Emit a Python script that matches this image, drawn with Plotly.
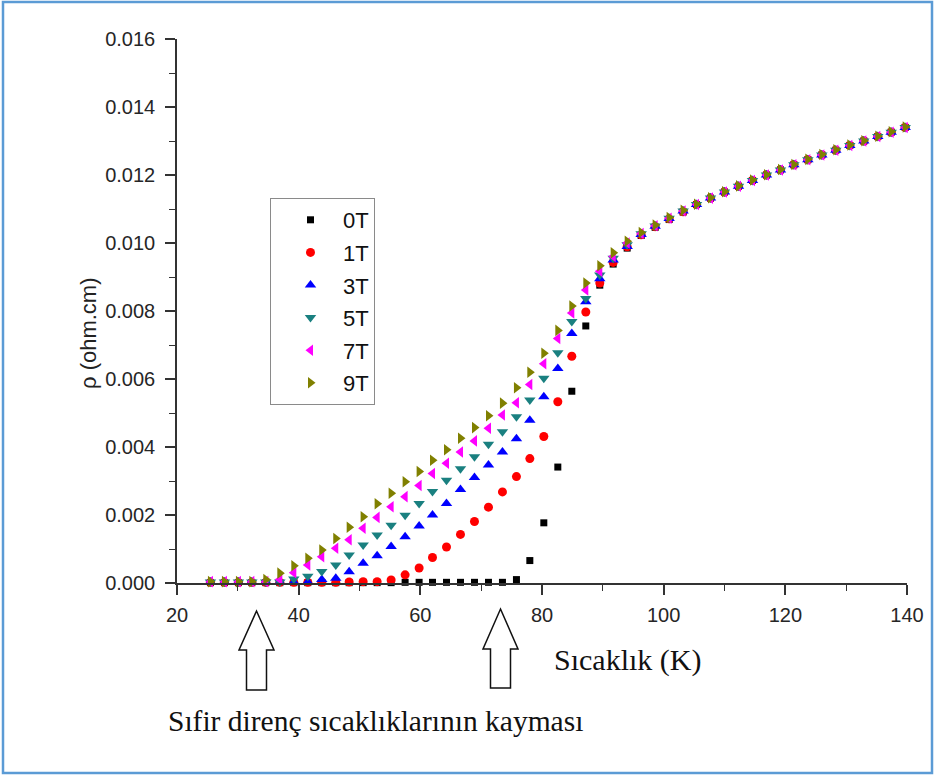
import plotly.graph_objects as go

# Temperature (K)
T = [25.5, 27.8, 30.1, 32.3, 34.6, 36.9, 39.2, 41.5, 43.8, 46.1, 48.3, 50.6, 52.9,
     55.2, 57.5, 59.8, 62.0, 64.3, 66.6, 68.9, 71.2, 73.5, 75.8, 78.0, 80.3, 82.6,
     84.9, 87.2, 89.5, 91.7, 94.0, 96.3, 98.6, 100.9, 103.2, 105.4, 107.7, 110.0,
     112.3, 114.6, 116.9, 119.2, 121.4, 123.7, 126.0, 128.3, 130.6, 132.9, 135.2,
     137.4, 139.7]

rho_0T = [0.00001, 0.00001, 0.00001, 0.00001, 0.00001, 0.00001, 0.00001, 0.00001,
          0.00001, 0.00001, 0.00001, 0.00001, 0.00001, 0.00001, 0.00002, 0.00002,
          0.00002, 0.00002, 0.00002, 0.00002, 0.00002, 0.00002, 0.00010, 0.00066,
          0.00177, 0.00341, 0.00564, 0.00756, 0.00876, 0.00938, 0.00985, 0.01022,
          0.01046, 0.01069, 0.01091, 0.01113, 0.01132, 0.01150, 0.01167, 0.01184,
          0.01200, 0.01215, 0.01230, 0.01245, 0.01259, 0.01273, 0.01287, 0.01300,
          0.01313, 0.01326, 0.01340]

rho_1T = [0.00002, 0.00002, 0.00002, 0.00002, 0.00002, 0.00002, 0.00002, 0.00002,
          0.00002, 0.00002, 0.00003, 0.00004, 0.00004, 0.00009, 0.00024, 0.00044,
          0.00075, 0.00106, 0.00143, 0.00181, 0.00223, 0.00268, 0.00313, 0.00366,
          0.00431, 0.00533, 0.00667, 0.00797, 0.00882, 0.00943, 0.00989, 0.01024,
          0.01048, 0.01071, 0.01092, 0.01113, 0.01132, 0.01150, 0.01167, 0.01184,
          0.01200, 0.01215, 0.01230, 0.01245, 0.01259, 0.01273, 0.01287, 0.01300,
          0.01313, 0.01326, 0.01340]

rho_3T = [0.00003, 0.00003, 0.00003, 0.00003, 0.00003, 0.00003, 0.00003, 0.00003,
          0.00010, 0.00014, 0.00033, 0.00058, 0.00080, 0.00107, 0.00136, 0.00168,
          0.00200, 0.00234, 0.00275, 0.00310, 0.00347, 0.00385, 0.00424, 0.00479,
          0.00548, 0.00631, 0.00734, 0.00827, 0.00895, 0.00950, 0.00990, 0.01025,
          0.01049, 0.01072, 0.01094, 0.01113, 0.01132, 0.01150, 0.01167, 0.01184,
          0.01200, 0.01215, 0.01230, 0.01245, 0.01259, 0.01273, 0.01287, 0.01300,
          0.01313, 0.01326, 0.01340]

rho_5T = [0.00003, 0.00003, 0.00003, 0.00003, 0.00003, 0.00003, 0.00012, 0.00020,
          0.00034, 0.00053, 0.00082, 0.00112, 0.00141, 0.00170, 0.00199, 0.00234,
          0.00269, 0.00302, 0.00336, 0.00371, 0.00408, 0.00445, 0.00489, 0.00538,
          0.00602, 0.00677, 0.00769, 0.00837, 0.00906, 0.00955, 0.00995, 0.01027,
          0.01050, 0.01073, 0.01094, 0.01113, 0.01132, 0.01150, 0.01167, 0.01184,
          0.01200, 0.01215, 0.01230, 0.01245, 0.01259, 0.01273, 0.01287, 0.01300,
          0.01313, 0.01326, 0.01340]

rho_7T = [0.00004, 0.00004, 0.00004, 0.00004, 0.00004, 0.00010, 0.00030, 0.00053,
          0.00077, 0.00102, 0.00127, 0.00161, 0.00193, 0.00224, 0.00254, 0.00287,
          0.00322, 0.00352, 0.00385, 0.00418, 0.00455, 0.00494, 0.00530, 0.00584,
          0.00645, 0.00719, 0.00794, 0.00862, 0.00917, 0.00960, 0.01000, 0.01028,
          0.01051, 0.01073, 0.01094, 0.01113, 0.01132, 0.01150, 0.01167, 0.01184,
          0.01200, 0.01215, 0.01230, 0.01245, 0.01259, 0.01273, 0.01287, 0.01300,
          0.01313, 0.01326, 0.01340]

rho_9T = [0.00004, 0.00004, 0.00004, 0.00004, 0.00010, 0.00029, 0.00051, 0.00073,
          0.00097, 0.00131, 0.00164, 0.00195, 0.00233, 0.00264, 0.00298, 0.00328,
          0.00361, 0.00392, 0.00426, 0.00457, 0.00492, 0.00529, 0.00574, 0.00620,
          0.00676, 0.00743, 0.00815, 0.00882, 0.00933, 0.00971, 0.01005, 0.01031,
          0.01053, 0.01075, 0.01096, 0.01114, 0.01133, 0.01151, 0.01168, 0.01185,
          0.01201, 0.01216, 0.01231, 0.01246, 0.01260, 0.01274, 0.01288, 0.01301,
          0.01314, 0.01327, 0.01341]

series_names = ["0T", "1T", "3T", "5T", "7T", "9T"]
series_values = [rho_0T, rho_1T, rho_3T, rho_5T, rho_7T, rho_9T]
series_colors = ["#000000", "#ff0000", "#0000ff", "#1a8080", "#ff00ff", "#808000"]
series_symbols = ["square", "circle", "triangle-up", "triangle-down",
                  "triangle-left", "triangle-right"]
series_sizes = [7, 9, 10, 10, 10, 10]

x_ticks = [20, 40, 60, 80, 100, 120, 140]
y_ticks = [0.000, 0.002, 0.004, 0.006, 0.008, 0.010, 0.012, 0.014, 0.016]

# figure geometry (pixels)
W, H = 936, 776
L, R, TOP, B = 177, 29, 39, 193
PW, PH = W - L - R, H - TOP - B


def px(xp):
    return (xp - L) / PW


def py(yp):
    return (H - B - yp) / PH


fig = go.Figure()
for i, (name, vals, col, sym, sz) in enumerate(
        zip(series_names, series_values, series_colors, series_symbols, series_sizes)):
    fig.add_trace(go.Scatter(
        x=T, y=vals, mode="markers", name=name, legendgroup=name,
        marker=dict(symbol=sym, color=col, size=sz, line=dict(width=0)),
        cliponaxis=False,
    ))

axis_col = "#333333"
tick_font = dict(family="Liberation Sans, Arial, sans-serif", size=20, color="#262626")

fig.update_layout(
    width=W, height=H,
    margin=dict(l=L, r=R, t=TOP, b=B, pad=0),
    paper_bgcolor="white", plot_bgcolor="white",
    showlegend=True,
    legend=dict(
        x=px(270), y=py(198), xanchor="left", yanchor="top",
        bordercolor="#8a8a8a", borderwidth=1, bgcolor="white",
        font=dict(family="Liberation Sans, Arial, sans-serif", size=22, color="#111111"),
        tracegroupgap=1, itemwidth=55, indentation=7, traceorder="grouped",
    ),
    xaxis=dict(
        range=[20, 140], tickvals=x_ticks, ticktext=[str(v) for v in x_ticks],
        showline=True, linecolor=axis_col, linewidth=1.5,
        ticks="outside", ticklen=10, tickwidth=1.5, tickcolor=axis_col,
        showgrid=False, zeroline=False, tickfont=tick_font,
        ticklabelstandoff=3,
        minor=dict(dtick=10, tick0=20, ticks="outside", ticklen=6, tickwidth=1.2,
                   tickcolor=axis_col, showgrid=False),
    ),
    yaxis=dict(
        range=[0, 0.016], tickvals=y_ticks, ticktext=["%.3f" % v for v in y_ticks],
        showline=True, linecolor=axis_col, linewidth=1.5,
        ticks="outside", ticklen=10, tickwidth=1.5, tickcolor=axis_col,
        showgrid=False, zeroline=False, tickfont=tick_font,
        ticklabelstandoff=6,
        minor=dict(dtick=0.001, tick0=0, ticks="outside", ticklen=6, tickwidth=1.2,
                   tickcolor=axis_col, showgrid=False),
    ),
)

# axis titles and caption
fig.add_annotation(
    text="ρ (ohm.cm)", xref="paper", yref="paper", x=px(88), y=py(333),
    textangle=-90, showarrow=False, xanchor="center", yanchor="middle",
    font=dict(family="Liberation Sans, Arial, sans-serif", size=22, color="#222222"),
)
fig.add_annotation(
    text="Sıcaklık (K)", xref="paper", yref="paper", x=px(627), y=py(660),
    showarrow=False, xanchor="center", yanchor="middle",
    font=dict(family="Liberation Serif, Times New Roman, serif", size=30, color="#111111"),
)
fig.add_annotation(
    text="Sıfir direnç sıcaklıklarının kayması", xref="paper", yref="paper",
    x=px(375), y=py(721), showarrow=False, xanchor="center", yanchor="middle",
    font=dict(family="Liberation Serif, Times New Roman, serif", size=29.5, color="#111111"),
)


# hollow up-arrows (decorations)
def arrow_path(cx, tip, base, bottom, hw, sw):
    pts = [(cx, tip), (cx + hw, base), (cx + sw, base), (cx + sw, bottom),
           (cx - sw, bottom), (cx - sw, base), (cx - hw, base)]
    return "M " + " L ".join("%.5f,%.5f" % (px(a), py(b)) for a, b in pts) + " Z"


for cx, tip, base, bottom in [(256.5, 611, 650, 690), (500.5, 609, 649, 688)]:
    fig.add_shape(type="path", xref="paper", yref="paper",
                  path=arrow_path(cx, tip, base, bottom, 17.5, 10),
                  line=dict(color="#111111", width=1.5), fillcolor="white")

# outer frame
fig.add_shape(type="rect", xref="paper", yref="paper",
              x0=px(3), y0=py(2), x1=px(932), y1=py(773),
              line=dict(color="#5b9bd5", width=2.5), fillcolor="rgba(0,0,0,0)")

fig.write_html(
    "out.html",
    config={"displayModeBar": False},
    post_script="document.body.style.margin='0';document.body.style.overflow='hidden';",
)
